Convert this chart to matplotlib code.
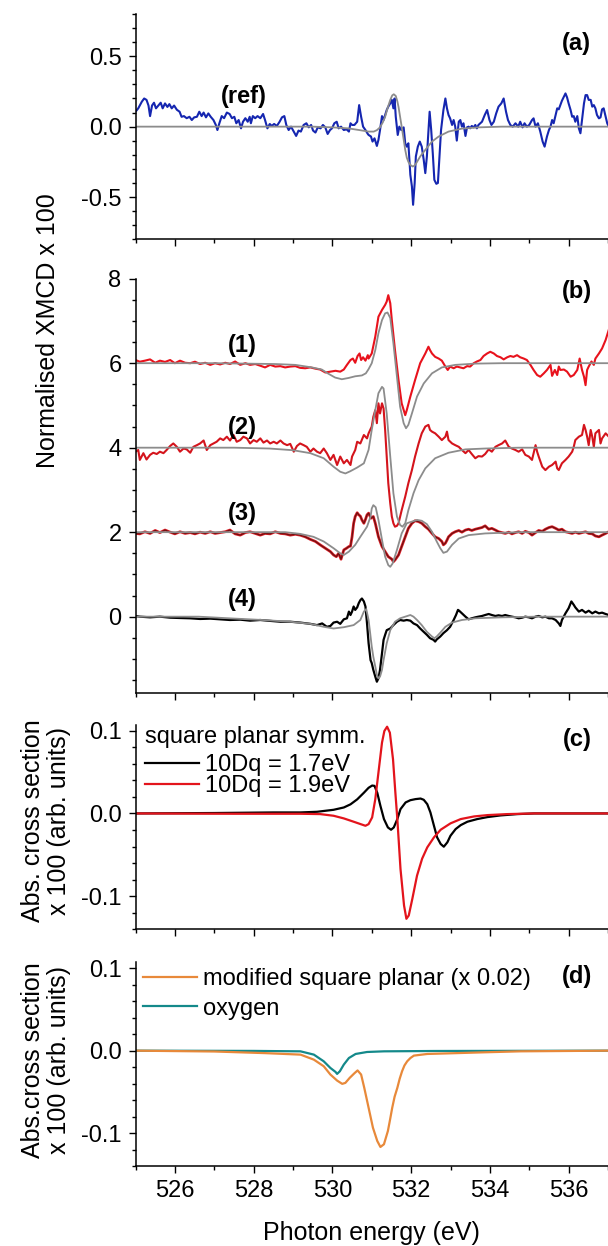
import numpy as np
import matplotlib
matplotlib.use("Agg")
import matplotlib.pyplot as plt
from matplotlib.ticker import MultipleLocator, FixedLocator, FormatStrFormatter

plt.rcParams['font.family'] = ['Liberation Sans', 'DejaVu Sans']
plt.rcParams['axes.unicode_minus'] = False

# ---------------- data (photon energy eV, value) ----------------
# panel (a): reference XMCD and its fit
a_ref = [(525.00,0.106),(525.07,0.13),(525.16,0.177),(525.22,0.20),(525.28,0.19),(525.33,0.15),(525.37,0.075),(525.42,0.15),(525.47,0.17),(525.52,0.13),(525.58,0.15),(525.64,0.17),(525.69,0.13),(525.75,0.165),(525.81,0.14),(525.86,0.16),(525.92,0.13),(525.98,0.15),(526.05,0.12),(526.12,0.106),(526.17,0.07),(526.23,0.075),(526.30,0.06),(526.37,0.07),(526.43,0.047),(526.49,0.066),(526.56,0.07),(526.62,0.106),(526.68,0.075),(526.73,0.10),(526.79,0.066),(526.85,0.094),(526.91,0.07),(526.98,0.047),(527.04,0.012),(527.08,-0.024),(527.13,0.024),(527.19,0.075),(527.25,0.06),(527.32,0.10),(527.39,0.09),(527.45,0.06),(527.51,0.07),(527.56,0.024),(527.62,0.047),(527.68,-0.012),(527.73,0.035),(527.79,0.06),(527.85,0.035),(527.90,0.07),(527.93,0.024),(527.98,0.075),(528.04,0.06),(528.10,0.075),(528.17,0.06),(528.24,0.09),(528.29,0.047),(528.35,-0.012),(528.41,0.019),(528.46,0.005),(528.52,0.019),(528.59,0.005),(528.66,0.035),(528.72,0.066),(528.78,0.075),(528.83,0.012),(528.89,-0.024),(528.95,0.0),(529.02,-0.035),(529.08,-0.066),(529.14,-0.028),(529.20,-0.035),(529.27,0.012),(529.34,0.024),(529.40,-0.005),(529.46,0.012),(529.51,-0.028),(529.57,-0.042),(529.63,-0.005),(529.70,-0.012),(529.76,0.012),(529.82,-0.005),(529.88,-0.052),(529.94,-0.024),(529.99,-0.012),(530.05,0.024),(530.11,0.035),(530.16,-0.012),(530.22,0.0),(530.29,-0.024),(530.36,-0.019),(530.42,-0.035),(530.46,0.024),(530.50,0.012),(530.56,0.012),(530.63,0.035),(530.68,0.153),(530.73,0.07),(530.78,0.0),(530.84,-0.024),(530.90,-0.052),
         (530.92,-0.059),(530.98,-0.07),(531.02,-0.106),(531.07,-0.083),(531.13,-0.137),(531.17,-0.094),(531.21,-0.024),(531.26,0.075),(531.30,0.047),(531.34,0.083),(531.38,0.118),(531.42,0.142),(531.47,0.165),(531.51,0.19),(531.55,0.13),(531.58,0.20),(531.61,0.07),(531.66,-0.059),(531.70,0.0),(531.75,-0.024),(531.81,-0.005),(531.85,-0.118),(531.89,-0.142),(531.93,-0.118),(531.98,-0.342),(532.02,-0.425),(532.05,-0.555),(532.09,-0.40),(532.12,-0.212),(532.17,-0.142),(532.22,-0.106),(532.27,-0.142),(532.32,-0.236),(532.36,-0.33),(532.40,-0.212),(532.44,-0.024),(532.47,0.106),(532.51,-0.024),(532.55,-0.189),(532.59,-0.378),(532.64,-0.406),(532.68,-0.40),(532.72,-0.212),(532.76,-0.024),(532.82,0.118),(532.87,0.20),(532.91,0.13),(532.95,0.083),(532.99,0.059),(533.04,0.012),(533.08,0.047),(533.12,0.0),(533.16,-0.099),(533.21,0.035),(533.25,0.047),(533.29,0.0),(533.33,0.024),(533.38,-0.066),(533.42,-0.005),(533.46,0.0),(533.50,-0.012),(533.54,0.005),(533.59,-0.005),(533.63,0.012),(533.67,-0.012),(533.71,0.012),(533.80,0.035),(533.87,0.083),(533.93,0.118),(533.99,0.047),(534.04,0.012),(534.10,0.035),(534.16,0.094),(534.22,0.142),(534.29,0.165),(534.35,0.20),(534.41,0.106),(534.46,0.047),(534.52,0.012),(534.58,0.0),(534.65,0.024),(534.72,0.0),(534.77,0.035),(534.83,-0.005),(534.88,0.024),(534.94,0.0),(535.00,0.012),(535.07,0.047),(535.11,0.059),(535.16,0.0),(535.22,0.024),(535.28,-0.035),(535.34,-0.106),(535.39,-0.142),(535.45,-0.07),(535.50,-0.024),(535.54,0.0),(535.58,0.047),(535.62,0.024),(535.67,0.083),(535.71,0.13),(535.75,0.123),(535.79,0.153),(535.83,0.184),(535.88,0.212),(535.92,0.236),(535.96,0.208),(536.00,0.165),(536.05,0.118),(536.09,0.07),(536.13,0.075),(536.17,0.035),(536.22,0.075),(536.26,-0.012),(536.30,-0.047),(536.34,0.047),(536.39,0.165),(536.43,0.224),(536.47,0.224),(536.51,0.19),(536.56,0.19),(536.60,0.142),(536.64,0.153),(536.68,0.13),(536.72,0.083),(536.77,0.059),(536.81,0.066),(536.85,0.123),(536.89,0.13),(536.94,0.07),(536.98,0.024),(537.02,0.0)]
a_fit = [(525.0,0.0),(529.5,0.0),(530.0,-0.005),(530.4,-0.012),(530.7,-0.025),(530.92,-0.035),(531.05,-0.035),(531.13,-0.025),(531.21,-0.005),(531.28,0.03),(531.34,0.07),(531.40,0.13),(531.47,0.19),(531.52,0.222),(531.56,0.23),(531.61,0.218),(531.65,0.18),(531.68,0.14),(531.72,0.07),(531.76,0.0),(531.81,-0.09),(531.85,-0.165),(531.89,-0.22),(531.93,-0.25),(531.98,-0.272),(532.04,-0.283),(532.08,-0.278),(532.12,-0.264),(532.23,-0.212),(532.36,-0.165),(532.53,-0.106),(532.7,-0.07),(532.95,-0.035),(533.29,-0.014),(533.71,-0.005),(534.3,0.0),(537.0,0.0)]

# panel (b): spectra (1)-(4) with fits (offset by 6, 4, 2, 0)
b1_data = [(525.00,6.075),(525.11,6.035),(525.24,6.06),(525.37,6.09),(525.50,6.01),(525.62,6.06),(525.75,6.03),(525.88,6.075),(526.00,6.00),(526.13,6.06),(526.26,6.01),(526.39,6.00),(526.51,6.035),(526.64,5.98),(526.77,6.01),(526.90,5.96),(527.02,6.00),(527.15,5.97),(527.28,6.01),(527.40,5.98),(527.53,6.04),(527.66,5.96),(527.79,6.00),(527.91,5.96),(528.04,5.98),(528.17,5.94),(528.29,5.90),(528.42,5.96),(528.55,5.92),(528.68,5.93),(528.80,5.90),(528.93,5.92),(529.06,5.93),(529.18,5.89),(529.31,5.88),(529.44,5.90),(529.57,5.87),(529.69,5.85),(529.82,5.78),(529.95,5.80),(530.08,5.82),(530.20,5.80),(530.29,5.85),(530.37,5.96),(530.46,6.075),(530.52,6.11),(530.58,6.01),(530.64,6.17),(530.69,6.23),(530.73,6.075),(530.78,6.14),(530.84,6.06),(530.90,6.19),
           (530.92,6.11),(531.00,6.23),(531.09,6.63),(531.17,7.10),(531.26,7.26),(531.34,7.38),(531.38,7.46),(531.42,7.61),(531.47,7.42),(531.51,7.02),(531.59,6.31),(531.68,5.60),(531.76,5.05),(531.85,4.77),(531.89,4.89),(531.98,5.21),(532.10,5.60),(532.23,6.00),(532.36,6.23),(532.44,6.39),(532.48,6.31),(532.53,6.23),(532.61,6.15),(532.70,6.11),(532.78,6.06),(532.87,5.92),(532.93,5.84),(532.99,5.92),(533.08,5.88),(533.16,5.92),(533.25,5.90),(533.33,5.88),(533.42,5.93),(533.50,5.92),(533.59,6.00),(533.67,6.04),(533.76,6.075),(533.84,6.17),(533.93,6.23),(534.01,6.27),(534.10,6.23),(534.18,6.17),(534.27,6.14),(534.35,6.09),(534.44,6.14),(534.52,6.17),(534.60,6.15),(534.69,6.19),(534.77,6.14),(534.86,6.11),(534.94,6.075),(535.03,5.96),(535.11,5.84),(535.20,5.72),(535.28,5.68),(535.37,5.76),(535.45,5.84),(535.54,5.96),(535.58,5.70),(535.65,5.84),(535.71,5.72),(535.75,5.92),(535.79,5.84),(535.88,5.85),(535.96,5.80),(536.05,5.68),(536.13,5.72),(536.22,5.84),(536.28,6.11),(536.34,5.84),(536.39,5.68),(536.43,5.48),(536.47,5.84),(536.51,5.92),(536.58,6.04),(536.64,5.96),(536.68,6.11),(536.77,6.23),(536.85,6.35),(536.94,6.55),(537.02,6.79)]
b1_fit = [(525.0,6.0),(527.0,6.0),(528.55,5.98),(529.06,5.96),(529.48,5.90),(529.73,5.85),(529.90,5.75),(530.07,5.66),(530.24,5.62),(530.41,5.65),(530.58,5.69),(530.75,5.71),(530.85,5.76),(530.92,5.86),(531.00,6.00),(531.09,6.31),(531.17,6.71),(531.26,7.02),(531.34,7.18),(531.40,7.20),(531.47,7.07),(531.55,6.47),(531.64,5.68),(531.72,4.97),(531.81,4.58),(531.87,4.46),(531.93,4.54),(532.02,4.81),(532.15,5.21),(532.32,5.52),(532.53,5.76),(532.78,5.90),(533.12,5.96),(533.63,5.99),(534.31,6.0),(537.0,6.0)]

b2_data = [(525.00,3.905),(525.07,3.945),(525.11,3.71),(525.20,3.87),(525.28,3.72),(525.37,3.83),(525.45,3.88),(525.54,3.85),(525.62,3.905),(525.71,3.87),(525.79,3.945),(525.88,4.04),(525.96,4.10),(526.05,4.02),(526.13,3.905),(526.22,3.98),(526.30,3.96),(526.39,3.88),(526.47,4.02),(526.56,4.06),(526.64,4.10),(526.73,4.17),(526.81,3.945),(526.90,4.06),(526.98,4.10),(527.06,4.14),(527.15,4.22),(527.23,4.18),(527.32,4.26),(527.40,4.17),(527.49,4.30),(527.57,4.14),(527.66,4.18),(527.74,4.26),(527.83,4.22),(527.91,4.10),(528.00,4.18),(528.08,4.14),(528.17,4.22),(528.25,4.12),(528.34,4.17),(528.42,4.10),(528.51,4.14),(528.59,4.10),(528.68,4.17),(528.76,4.10),(528.85,4.06),(528.93,4.09),(529.02,3.905),(529.10,4.04),(529.18,4.10),(529.27,4.06),(529.35,4.02),(529.44,3.905),(529.52,3.98),(529.61,3.905),(529.69,3.87),(529.78,3.98),(529.86,3.87),(529.95,3.71),(530.03,3.83),(530.12,3.59),(530.20,3.79),(530.29,3.63),(530.37,3.71),(530.46,3.59),(530.50,3.79),(530.58,3.945),(530.63,4.14),(530.71,4.10),(530.80,4.30),(530.88,4.22),
           (530.92,4.34),(531.00,4.50),(531.04,4.73),(531.09,4.89),(531.13,4.58),(531.17,5.05),(531.21,4.81),(531.26,5.05),(531.30,4.93),(531.34,4.42),(531.38,3.79),(531.42,3.16),(531.47,2.68),(531.51,2.37),(531.55,2.21),(531.59,2.13),(531.64,2.15),(531.68,2.21),(531.76,2.52),(531.85,2.84),(531.93,3.16),(532.02,3.47),(532.10,3.79),(532.19,4.10),(532.27,4.34),(532.36,4.50),(532.44,4.54),(532.48,4.42),(532.53,4.38),(532.61,4.34),(532.70,4.26),(532.78,4.18),(532.87,4.26),(532.91,4.38),(532.95,4.18),(533.04,4.10),(533.12,4.06),(533.21,4.02),(533.29,3.945),(533.38,3.87),(533.46,3.945),(533.54,3.85),(533.63,3.75),(533.71,3.80),(533.80,3.79),(533.88,3.85),(533.97,3.96),(534.05,3.905),(534.14,4.02),(534.22,4.06),(534.31,4.10),(534.39,4.17),(534.48,4.02),(534.56,3.98),(534.65,3.945),(534.73,3.905),(534.82,3.96),(534.90,3.83),(534.99,3.79),(535.07,3.71),(535.16,4.06),(535.20,3.905),(535.24,3.79),(535.33,3.55),(535.41,3.47),(535.50,3.55),(535.58,3.59),(535.67,3.67),(535.71,3.51),(535.75,3.47),(535.83,3.63),(535.92,3.71),(536.00,3.79),(536.09,3.905),(536.13,4.02),(536.17,4.18),(536.26,4.26),(536.34,4.30),(536.39,4.54),(536.43,4.42),(536.47,4.26),(536.51,4.06),(536.56,4.42),(536.60,4.26),(536.64,4.02),(536.68,4.34),(536.77,4.42),(536.81,4.10),(536.85,4.22),(536.94,4.34),(537.02,4.26)]
b2_fit = [(525.0,4.0),(527.5,4.0),(528.4,3.98),(529.0,3.94),(529.44,3.87),(529.78,3.75),(530.03,3.55),(530.20,3.43),(530.33,3.39),(530.45,3.44),(530.63,3.53),(530.80,3.63),(530.92,3.95),(531.00,4.42),(531.09,4.89),(531.17,5.29),(531.26,5.44),(531.30,5.40),(531.38,4.81),(531.47,3.79),(531.55,2.92),(531.64,2.37),(531.72,2.17),(531.78,2.13),(531.85,2.21),(531.93,2.52),(532.06,2.92),(532.19,3.23),(532.36,3.51),(532.61,3.75),(532.95,3.88),(533.38,3.96),(533.88,3.98),(534.73,4.0),(537.0,4.0)]

b3_data = [(525.00,1.97),(525.11,1.96),(525.24,2.01),(525.37,1.97),(525.50,2.04),(525.62,1.99),(525.75,2.05),(525.88,2.00),(526.00,1.96),(526.13,2.01),(526.26,1.97),(526.39,1.99),(526.51,1.96),(526.64,2.00),(526.77,1.97),(526.90,2.01),(527.02,1.97),(527.15,1.99),(527.28,2.01),(527.40,2.05),(527.53,1.96),(527.66,1.93),(527.79,1.99),(527.91,2.01),(528.04,1.97),(528.17,1.93),(528.29,1.97),(528.42,1.96),(528.55,2.01),(528.68,1.97),(528.80,1.96),(528.93,1.93),(529.06,1.95),(529.18,1.93),(529.31,1.89),(529.44,1.83),(529.57,1.78),(529.69,1.70),(529.82,1.62),(529.95,1.54),(530.03,1.46),(530.10,1.42),(530.16,1.50),(530.22,1.36),(530.29,1.58),(530.36,1.62),(530.42,1.66),(530.46,1.67),(530.50,1.89),(530.54,2.21),(530.58,2.37),(530.63,2.46),(530.67,2.41),(530.71,2.38),(530.75,2.29),(530.80,2.21),(530.84,2.30),(530.88,2.41),
           (530.92,2.45),(530.98,2.33),(531.04,2.37),(531.09,2.21),(531.17,1.89),(531.26,1.66),(531.34,1.54),(531.42,1.42),(531.51,1.36),(531.55,1.30),(531.59,1.34),(531.68,1.46),(531.76,1.66),(531.85,1.89),(531.93,2.09),(532.02,2.21),(532.10,2.27),(532.19,2.25),(532.27,2.21),(532.36,2.13),(532.44,2.07),(532.53,1.97),(532.61,1.89),(532.70,1.85),(532.78,1.78),(532.82,1.70),(532.87,1.74),(532.91,1.81),(532.95,1.89),(533.04,1.97),(533.12,2.01),(533.21,2.04),(533.29,2.00),(533.38,2.05),(533.46,2.07),(533.54,2.04),(533.63,2.07),(533.71,2.09),(533.80,2.11),(533.88,2.15),(533.97,2.07),(534.05,2.09),(534.14,2.05),(534.22,2.01),(534.31,1.99),(534.39,1.97),(534.48,2.00),(534.56,1.96),(534.65,1.99),(534.73,2.01),(534.82,1.97),(534.90,2.02),(534.99,1.99),(535.07,1.93),(535.16,1.99),(535.24,2.04),(535.33,2.02),(535.41,2.07),(535.50,2.11),(535.58,2.13),(535.67,2.09),(535.75,2.05),(535.83,2.07),(535.92,2.01),(536.00,1.99),(536.09,1.97),(536.17,2.00),(536.26,1.97),(536.34,1.99),(536.43,2.01),(536.51,1.97),(536.60,1.96),(536.68,1.91),(536.77,1.89),(536.85,1.93),(536.94,1.97),(537.02,2.01)]
b3_fit = [(525.0,2.0),(528.8,2.0),(529.18,1.96),(529.52,1.89),(529.78,1.78),(530.03,1.62),(530.20,1.50),(530.29,1.46),(530.42,1.54),(530.58,1.70),(530.71,1.89),(530.88,2.13),(530.97,2.37),(531.00,2.56),(531.04,2.64),(531.10,2.59),(531.17,2.29),(531.26,1.82),(531.34,1.42),(531.42,1.22),(531.47,1.18),(531.53,1.26),(531.64,1.58),(531.76,1.97),(531.89,2.21),(532.02,2.25),(532.15,2.29),(532.27,2.27),(532.40,2.19),(532.53,2.01),(532.65,1.78),(532.74,1.62),(532.82,1.51),(532.91,1.54),(533.04,1.70),(533.21,1.85),(533.46,1.93),(533.88,1.97),(534.73,2.0),(537.0,2.0)]

b4_data = [(525.00,0.016),(525.11,0.0),(525.37,-0.016),(525.62,0.0),(525.88,-0.024),(526.13,-0.032),(526.39,-0.039),(526.64,-0.055),(526.90,-0.047),(527.15,-0.063),(527.40,-0.079),(527.66,-0.071),(527.91,-0.095),(528.17,-0.079),(528.42,-0.10),(528.68,-0.12),(528.93,-0.12),(529.18,-0.14),(529.44,-0.17),(529.61,-0.20),(529.74,-0.16),(529.86,-0.24),(529.95,-0.22),(530.03,-0.14),(530.12,-0.12),(530.20,-0.17),(530.29,-0.063),(530.37,-0.039),(530.42,0.12),(530.46,0.039),(530.50,0.12),(530.54,0.24),(530.58,0.16),(530.63,0.22),(530.67,0.32),(530.71,0.39),(530.75,0.43),(530.80,0.36),(530.84,0.24),(530.88,-0.16),(530.92,-0.63),(530.97,-1.03),
           (531.00,-1.10),(531.04,-1.26),(531.09,-1.42),(531.13,-1.54),(531.17,-1.46),(531.21,-1.26),(531.26,-0.87),(531.30,-0.55),(531.34,-0.43),(531.38,-0.32),(531.47,-0.28),(531.55,-0.20),(531.64,-0.12),(531.72,-0.079),(531.81,-0.095),(531.89,-0.079),(531.98,-0.095),(532.06,-0.16),(532.15,-0.20),(532.23,-0.28),(532.32,-0.36),(532.40,-0.43),(532.48,-0.51),(532.57,-0.55),(532.61,-0.59),(532.65,-0.54),(532.74,-0.47),(532.82,-0.39),(532.91,-0.32),(532.99,-0.24),(533.08,-0.079),(533.14,0.039),(533.19,0.16),(533.22,0.14),(533.29,0.079),(533.38,0.0),(533.46,-0.063),(533.54,-0.039),(533.63,-0.016),(533.71,0.0),(533.80,0.016),(533.88,0.039),(533.97,0.063),(534.05,0.039),(534.14,0.016),(534.22,0.032),(534.31,0.016),(534.39,0.039),(534.48,0.016),(534.56,0.0),(534.65,-0.016),(534.73,-0.039),(534.82,-0.024),(534.90,0.0),(534.99,-0.016),(535.07,-0.039),(535.16,0.0),(535.24,0.016),(535.33,-0.016),(535.41,0.0),(535.50,-0.039),(535.58,-0.039),(535.67,-0.079),(535.71,-0.12),(535.75,-0.16),(535.79,-0.22),(535.83,-0.079),(535.92,0.079),(536.00,0.20),(536.07,0.36),(536.13,0.28),(536.17,0.22),(536.26,0.12),(536.34,0.16),(536.43,0.095),(536.51,0.14),(536.60,0.079),(536.68,0.12),(536.77,0.079),(536.85,0.095),(536.94,0.063),(537.02,0.039)]
b4_fit = [(525.0,0.0),(526.6,0.0),(527.4,-0.04),(528.25,-0.08),(528.93,-0.12),(529.44,-0.17),(529.78,-0.24),(530.03,-0.28),(530.29,-0.25),(530.54,-0.20),(530.71,-0.079),(530.80,0.12),(530.86,0.18),(530.92,-0.08),(530.96,-0.39),(531.00,-0.71),(531.04,-0.95),(531.09,-1.18),(531.13,-1.38),(531.17,-1.46),(531.21,-1.42),(531.26,-1.26),(531.30,-1.03),(531.38,-0.63),(531.47,-0.32),(531.59,-0.12),(531.72,-0.039),(531.85,0.0),(531.98,0.039),(532.06,0.0),(532.15,-0.079),(532.27,-0.20),(532.40,-0.36),(532.53,-0.47),(532.59,-0.51),(532.65,-0.47),(532.74,-0.38),(532.87,-0.24),(533.04,-0.14),(533.29,-0.079),(533.63,-0.039),(534.31,-0.016),(535.16,0.0),(537.0,0.0)]

# panel (c): square planar calculations
c_17 = [(525.0,0.0),(527.0,0.0005),(528.5,0.0012),(529.19,0.0012),(529.61,0.002),(530.03,0.0044),(530.29,0.0072),(530.46,0.011),(530.63,0.017),(530.80,0.025),(530.92,0.031),(531.01,0.0337),(531.07,0.0333),(531.14,0.025),(531.22,0.0092),(531.31,-0.0068),(531.41,-0.0169),(531.49,-0.0197),(531.56,-0.0169),(531.65,-0.0068),(531.73,0.0052),(531.86,0.0133),(531.98,0.016),(532.11,0.0173),(532.24,0.018),(532.32,0.0165),(532.41,0.0112),(532.49,0.0012),(532.58,-0.0149),(532.66,-0.0289),(532.75,-0.0369),(532.83,-0.0402),(532.92,-0.0349),(533.00,-0.0269),(533.13,-0.0189),(533.26,-0.0141),(533.43,-0.010),(533.68,-0.0068),(533.94,-0.0044),(534.27,-0.0024),(534.70,-0.0008),(535.12,0.0),(537.0,0.0)]
c_19 = [(525.0,0.0),(527.5,-0.0004),(529.19,-0.0004),(529.69,-0.0008),(530.03,-0.0028),(530.29,-0.006),(530.54,-0.010),(530.71,-0.0128),(530.84,-0.0149),(530.92,-0.0129),(531.01,-0.0048),(531.09,0.0173),(531.18,0.0534),(531.26,0.0855),(531.32,0.0996),(531.39,0.1048),(531.46,0.0976),(531.54,0.0655),(531.60,0.025),(531.65,-0.0068),(531.73,-0.0671),(531.82,-0.1112),(531.88,-0.1273),(531.94,-0.1233),(532.03,-0.1033),(532.15,-0.0751),(532.28,-0.0546),(532.41,-0.0410),(532.58,-0.0289),(532.75,-0.0197),(533.00,-0.012),(533.26,-0.0068),(533.60,-0.0036),(533.94,-0.002),(534.44,-0.0008),(535.12,0.0),(537.0,0.0)]

# panel (d): modified square planar (x 0.02) and oxygen
d_mod = [(525.0,0.0),(527.0,-0.001),(528.3,-0.003),(529.19,-0.0048),(529.53,-0.0109),(529.78,-0.0189),(529.95,-0.0290),(530.12,-0.0363),(530.25,-0.0403),(530.33,-0.0391),(530.44,-0.0330),(530.56,-0.0274),(530.64,-0.0240),(530.73,-0.0290),(530.81,-0.0451),(530.92,-0.0693),(531.03,-0.0935),(531.14,-0.1096),(531.22,-0.1169),(531.31,-0.1136),(531.41,-0.0975),(531.46,-0.0850),(531.52,-0.0693),(531.58,-0.0560),(531.65,-0.0451),(531.71,-0.0340),(531.77,-0.0250),(531.83,-0.0180),(531.90,-0.0129),(531.98,-0.0090),(532.07,-0.006),(532.41,-0.004),(533.00,-0.0032),(533.85,-0.002),(534.78,-0.0008),(537.0,0.0)]
d_oxy = [(525.0,0.0),(528.0,-0.0003),(529.19,-0.0008),(529.53,-0.0048),(529.78,-0.0129),(529.95,-0.0210),(530.08,-0.0258),(530.12,-0.0282),(530.19,-0.0250),(530.29,-0.0169),(530.42,-0.0089),(530.59,-0.0040),(530.88,-0.0016),(531.31,-0.0008),(532.58,-0.0004),(537.0,0.0)]

# annotation labels
b_tags = ['(1)', '(2)', '(3)', '(4)']
b_tag_y = [6.43, 4.48, 2.45, 0.40]
c_title = 'square planar symm.'
c_labels = ['10Dq = 1.7eV', '10Dq = 1.9eV']
d_labels = ['modified square planar (x 0.02)', 'oxygen']

# ---------------- figure ----------------
W, H = 608, 1246
fig = plt.figure(figsize=(W / 100, H / 100), dpi=100)

L = 135.5 / W
Wd = 1 - L
def add(top_px, bot_px):
    return fig.add_axes([L, 1 - bot_px / H, Wd, (bot_px - top_px) / H])

ax_a = add(14.0, 239.3)
ax_b = add(278.7, 692.7)
ax_c = add(725.3, 929.3)
ax_d = add(961.7, 1166.0)

FS = 17
GRAY = '#8c8c8c'

def style(ax, ylim, yticks, yminor, fmt, xlabels=False):
    ax.set_xlim(525, 537)
    ax.set_ylim(*ylim)
    ax.xaxis.set_major_locator(FixedLocator([526, 528, 530, 532, 534, 536]))
    ax.xaxis.set_minor_locator(MultipleLocator(1))
    ax.yaxis.set_major_locator(FixedLocator(yticks))
    ax.yaxis.set_minor_locator(MultipleLocator(yminor))
    ax.yaxis.set_major_formatter(FormatStrFormatter(fmt))
    for s in ('top', 'right'):
        ax.spines[s].set_visible(False)
    for s in ('left', 'bottom'):
        ax.spines[s].set_linewidth(1.1)
    ax.tick_params(which='major', direction='out', length=5, width=1.0,
                   labelsize=FS, pad=5)
    ax.tick_params(which='minor', direction='out', length=3, width=1.0)
    if not xlabels:
        ax.tick_params(axis='x', labelbottom=False)

def P(pairs):
    arr = np.array(pairs)
    return arr[:, 0], arr[:, 1]

# (a)
x, y = P(a_ref); ax_a.plot(x, y, color='#1526b0', lw=1.5)
x, y = P(a_fit); ax_a.plot(x, y, color=GRAY, lw=1.3)
style(ax_a, (-0.8, 0.8), [-0.5, 0.0, 0.5], 0.1, '%.1f')
ax_a.text(527.74, 0.215, '(ref)', fontsize=FS, fontweight='bold', ha='center', va='center')

# (b)
x, y = P(b1_data); ax_b.plot(x, y, color='#e8121c', lw=1.5)
x, y = P(b2_data); ax_b.plot(x, y, color='#d4141c', lw=1.5)
x, y = P(b3_data); ax_b.plot(x, y, color='#e0202a', lw=2.0)
ax_b.plot(x, y, color='#6e1010', lw=0.9)
x, y = P(b4_data); ax_b.plot(x, y, color='black', lw=1.6)
for fit in (b1_fit, b2_fit, b3_fit, b4_fit):
    x, y = P(fit); ax_b.plot(x, y, color=GRAY, lw=1.3)
style(ax_b, (-1.8, 8.0), [0, 2, 4, 6, 8], 0.5, '%d')
for t, ty in zip(b_tags, b_tag_y):
    ax_b.text(527.71, ty, t, fontsize=FS, fontweight='bold', ha='center', va='center')

# (c)
x, y = P(c_17); l1, = ax_c.plot(x, y, color='black', lw=1.6)
x, y = P(c_19); l2, = ax_c.plot(x, y, color='#e3141c', lw=1.6)
style(ax_c, (-0.14, 0.1065), [-0.1, 0.0, 0.1], 0.02, '%.1f')
ax_c.text(0.02, 0.945, c_title, transform=ax_c.transAxes, fontsize=FS,
          ha='left', va='center')
ax_c.legend([l1, l2], c_labels, loc='upper left',
            bbox_to_anchor=(0.02, 0.858), frameon=False, fontsize=FS,
            handlelength=2.3, handletextpad=0.25,
            labelspacing=-0.06, borderpad=0, borderaxespad=0)

# (d)
x, y = P(d_oxy); l4, = ax_d.plot(x, y, color='#14898a', lw=1.6)
x, y = P(d_mod); l3, = ax_d.plot(x, y, color='#e8893a', lw=1.6)
style(ax_d, (-0.14, 0.108), [-0.1, 0.0, 0.1], 0.02, '%.1f', xlabels=True)
ax_d.legend([l3, l4], d_labels, loc='upper left', bbox_to_anchor=(0.016, 0.967),
            frameon=False, fontsize=FS, handlelength=2.3, handletextpad=0.25,
            labelspacing=0.31, borderpad=0, borderaxespad=0)

# panel tags
for ax, tag, ty in ((ax_a, '(a)', 0.87), (ax_b, '(b)', 0.968), (ax_c, '(c)', 0.928), (ax_d, '(d)', 0.927)):
    ax.text(0.934, ty, tag, transform=ax.transAxes, fontsize=FS,
            fontweight='bold', ha='center', va='center')

# axis labels
fig.text(48 / W, 1 - 331 / H, 'Normalised XMCD x 100', rotation=90,
         fontsize=18, ha='center', va='center')
fig.text(46 / W, 1 - 821 / H, 'Abs. cross section\nx 100 (arb. units)', rotation=90,
         fontsize=18, ha='center', va='center', multialignment='center', linespacing=1.1)
fig.text(46 / W, 1 - 1060 / H, 'Abs.cross section\nx 100 (arb. units)', rotation=90,
         fontsize=18, ha='center', va='center', multialignment='center', linespacing=1.1)
fig.text((135.5 + 608) / 2 / W, 1 - 1233 / H, 'Photon energy (eV)',
         fontsize=18, ha='center', va='center')

fig.savefig('out.png', dpi=100)
